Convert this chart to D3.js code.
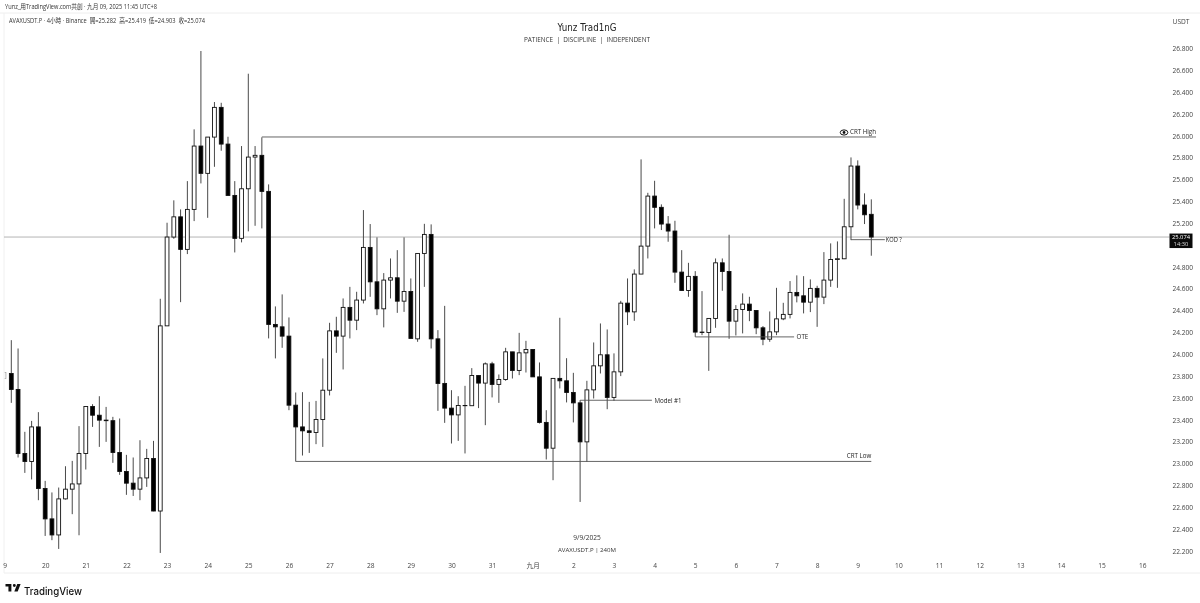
<!DOCTYPE html>
<html>
<head>
<meta charset="utf-8">
<script src="https://cdn.jsdelivr.net/npm/d3@7"></script>
<style>
  html, body { margin: 0; padding: 0; background: #fff; }
  svg { display: block; filter: blur(0.45px); }
  text { font-family: "Open Sans", "Noto Sans CJK TC", sans-serif; fill: #333; }
  .tick text { font-size: 6.6px; fill: #444; }
  .note { font-size: 6.2px; fill: #222; }
</style>
</head>
<body>
<div id="viz"></div>
<script>
// candles, 4h bars
const candleOpen = [
  23.825,23.679,23.093,23.019,23.336,22.772,22.494,22.347,22.677,22.766,
  22.814,23.093,23.523,23.443,23.398,23.393,23.102,22.928,22.821,22.766,
  22.869,23.047,22.566,24.261,25.074,25.259,24.961,25.327,25.907,25.657,
  25.989,26.261,25.925,25.455,25.062,25.516,25.806,25.822,25.492,24.274,
  24.252,24.167,23.535,23.336,23.300,23.285,23.404,23.672,24.215,24.167,
  24.430,24.313,24.497,24.979,24.664,24.417,24.680,24.701,24.487,24.576,
  24.142,24.924,25.098,24.142,23.734,23.508,23.446,23.532,23.530,23.807,
  23.737,23.913,23.725,23.770,24.023,23.853,24.014,24.045,23.794,23.377,
  23.141,23.780,23.758,23.651,23.556,23.199,23.675,23.895,23.996,23.606,
  23.840,24.469,24.389,24.735,24.991,25.449,25.346,25.193,25.129,24.753,
  24.585,24.714,24.204,24.200,24.329,24.838,24.759,24.304,24.411,24.460,
  24.402,24.243,24.139,24.206,24.325,24.366,24.567,24.536,24.478,24.604,
  24.524,24.680,24.869,24.875,25.168,25.724,25.367,25.282]
const candleClose = [
  23.679,23.093,23.019,23.336,22.772,22.494,22.347,22.677,22.766,22.814,
  23.093,23.523,23.443,23.398,23.393,23.102,22.928,22.821,22.766,22.869,
  23.047,22.566,24.261,25.074,25.259,24.961,25.327,25.907,25.657,25.989,
  26.261,25.925,25.455,25.062,25.516,25.806,25.822,25.492,24.274,24.252,
  24.167,23.535,23.336,23.300,23.285,23.404,23.672,24.215,24.167,24.430,
  24.313,24.497,24.979,24.664,24.417,24.680,24.701,24.487,24.576,24.146,
  24.924,25.098,24.142,23.734,23.508,23.446,23.532,23.530,23.807,23.737,
  23.913,23.725,23.770,24.023,23.853,24.014,24.045,23.794,23.377,23.141,
  23.780,23.758,23.651,23.556,23.199,23.675,23.895,23.996,23.606,23.840,
  24.469,24.389,24.735,24.991,25.449,25.346,25.193,25.129,24.753,24.585,
  24.714,24.204,24.200,24.329,24.838,24.759,24.304,24.411,24.460,24.402,
  24.243,24.139,24.206,24.325,24.366,24.567,24.536,24.478,24.604,24.524,
  24.680,24.869,24.875,25.168,25.724,25.367,25.278,25.074]
const candleHigh = [
  24.130,24.054,23.291,23.391,23.471,22.842,22.736,22.781,22.976,23.025,
  23.343,23.526,23.544,23.617,23.519,23.428,23.413,23.080,23.056,23.214,
  23.135,23.208,24.509,25.205,25.410,25.327,25.586,26.060,26.777,25.989,
  26.310,26.303,25.992,25.586,25.907,26.569,25.907,25.987,25.556,24.439,
  24.549,24.338,23.651,23.654,23.565,23.574,23.963,24.289,24.344,24.512,
  24.618,24.573,25.321,25.193,25.071,24.744,24.878,24.954,25.071,24.695,
  24.927,25.195,25.190,24.222,24.444,23.672,23.617,23.712,23.874,23.807,
  23.926,23.932,23.816,24.060,24.023,24.197,24.124,24.045,23.926,23.489,
  23.780,24.335,23.965,23.831,23.581,23.758,24.109,24.283,24.228,24.009,
  24.490,24.695,24.778,25.785,25.479,25.589,25.373,25.266,25.223,24.954,
  24.838,24.762,24.579,24.329,24.878,24.878,25.095,24.451,24.558,24.527,
  24.405,24.259,24.393,24.609,24.472,24.671,24.723,24.716,24.686,24.628,
  24.936,25.016,25.034,25.424,25.803,25.776,25.474,25.419]
const candleLow = [
  23.556,23.056,22.915,22.855,22.665,22.338,22.299,22.219,22.671,22.537,
  22.344,22.946,23.336,23.153,23.199,23.007,22.897,22.714,22.704,22.665,
  22.787,22.564,22.182,24.261,25.058,24.478,24.918,25.220,25.565,25.250,
  25.717,25.864,25.455,24.933,25.025,25.126,25.177,25.153,24.146,23.963,
  24.060,23.489,23.019,23.074,23.098,23.178,23.153,23.624,24.014,23.862,
  24.146,24.222,24.466,24.527,24.359,24.247,24.512,24.380,24.389,24.146,
  24.115,24.618,24.054,23.483,23.373,23.184,23.208,23.093,23.530,23.508,
  23.352,23.606,23.556,23.758,23.779,23.810,23.834,23.794,23.367,23.038,
  22.848,23.688,23.560,23.377,22.649,23.016,23.596,23.825,23.498,23.574,
  23.801,24.268,24.307,24.735,24.878,25.153,25.138,25.031,24.655,24.582,
  24.527,24.160,24.176,23.849,24.243,24.582,24.142,24.173,24.192,24.304,
  24.185,24.084,24.115,24.176,24.313,24.329,24.476,24.375,24.387,24.252,
  24.460,24.618,24.609,24.872,25.046,25.327,25.193,24.903]

// 25.000 is hidden behind the last price tag in the reference
const priceTicks = [22.2,22.4,22.6,22.8,23.0,23.2,23.4,23.6,23.8,24.0,24.2,24.4,24.6,24.8,25.2,25.4,25.6,25.8,26.0,26.2,26.4,26.6,26.8]
const dayLabels = ['9','20','21','22','23','24','25','26','27','28','29','30','31','九月','2','3','4','5','6','7','8','9','10','11','12','13','14','15','16']

const lastPrice = 25.074
const noteLabels = ['CRT High','CRT Low','Model #1','OTE','KOD ?']
const noteFrom   = [37, 42, 84, 101, 124]      // bar where the line starts
const noteTo     = [127.7, 127, 94.6, 115.6, 129]
const notePrice  = [25.99, 23.02, 23.58, 24.16, 25.05]

const CONST = { width: 1200, height: 603,
                plot: { left: 4, right: 1169.5, top: 13, bottom: 573 },
                bar:  { first: 11.3, last: 871.3, width: 3.8 },
                price:{ top: 48.5, bottom: 551 } }

const svg = d3.select('#viz').append('svg')
    .attr('width', CONST.width)
    .attr('height', CONST.height)

svg.append('rect').attr('width', CONST.width).attr('height', CONST.height).attr('fill', '#fff')

const x = d3.scaleLinear().domain([0, candleOpen.length - 1]).range([CONST.bar.first, CONST.bar.last])
const y = d3.scaleLinear().domain([22.2, 26.8]).range([CONST.price.bottom, CONST.price.top])

function drawFrame() {
    const p = CONST.plot
    svg.append('line').attr('x1', 0).attr('x2', CONST.width).attr('y1', p.top).attr('y2', p.top).attr('stroke', '#eee')
    svg.append('line').attr('x1', p.left).attr('x2', p.left).attr('y1', p.top).attr('y2', p.bottom).attr('stroke', '#f0f0f0')
    svg.append('line').attr('x1', p.left).attr('x2', CONST.width).attr('y1', p.bottom).attr('y2', p.bottom).attr('stroke', '#eee')

    // the source text is squeezed sideways, so fix the widths
    svg.append('text').text('Yunz_用TradingView.com共創 · 九月 09, 2025 11:45 UTC+8')
        .attr('x', 5).attr('y', 9).attr('font-size', 6.6)
        .attr('textLength', 152).attr('lengthAdjust', 'spacingAndGlyphs')
    svg.append('text').text('AVAXUSDT.P · 4小時 · Binance  開=25.282  高=25.419  低=24.903  收=25.074')
        .attr('x', 9).attr('y', 22.5).attr('font-size', 6.4).attr('xml:space', 'preserve')
        .attr('textLength', 196).attr('lengthAdjust', 'spacingAndGlyphs')

    svg.append('text').text('Yunz Trad1nG').attr('x', 587).attr('y', 30.5)
        .attr('text-anchor', 'middle').attr('font-size', 10).style('fill', '#222')
        .style('font-family', '"DejaVu Sans"')
        .attr('textLength', 59).attr('lengthAdjust', 'spacingAndGlyphs')
    svg.append('text').text('PATIENCE  |  DISCIPLINE  |  INDEPENDENT').attr('x', 587).attr('y', 42)
        .attr('text-anchor', 'middle').attr('font-size', 6.4).attr('xml:space', 'preserve')

    svg.append('text').text('9/9/2025').attr('x', 587).attr('y', 539.5)
        .attr('text-anchor', 'middle').attr('font-size', 6.6)
    svg.append('text').text('AVAXUSDT.P | 240M').attr('x', 587).attr('y', 551.5)
        .attr('text-anchor', 'middle').attr('font-size', 6.1)

    // cut-off label at the left edge
    svg.append('text').text(']').attr('x', 4.5).attr('y', y(23.79))
        .attr('font-size', 7).style('fill', '#888')
}

function drawAxes() {
    const yAxis = svg.append('g').attr('class', 'y-axis')
        .attr('transform', `translate(${1170},0)`)
        .call(d3.axisRight(y).tickValues(priceTicks).tickSize(0).tickPadding(2.5).tickFormat(d3.format('.3f')))
    yAxis.select('.domain').remove()

    svg.append('text').text('USDT').attr('x', 1181).attr('y', 23.5)
        .attr('text-anchor', 'middle').attr('font-size', 6.6).style('fill', '#444')

    const dayBars = dayLabels.map((d, i) => -1 + i * 6)
    const xAxis = svg.append('g').attr('class', 'x-axis')
        .attr('transform', `translate(0,${560.5})`)
        .call(d3.axisBottom(x).tickValues(dayBars).tickSize(0).tickPadding(3)
            .tickFormat((d, i) => dayLabels[i]))
    xAxis.select('.domain').remove()
}

function drawLastPrice() {
    const yp = y(lastPrice)
    svg.append('line').attr('x1', CONST.plot.left).attr('x2', CONST.plot.right)
        .attr('y1', yp).attr('y2', yp).attr('stroke', '#b4b4b4').attr('stroke-width', 1)
    svg.append('rect').attr('x', CONST.plot.right).attr('y', yp - 3.5).attr('width', 23).attr('height', 14.5).attr('fill', '#0b0b0b')
    // price and countdown share one text element
    const tag = svg.append('text').attr('text-anchor', 'middle').attr('font-size', 5.8).style('fill', '#fff')
    tag.append('tspan').text(d3.format('.3f')(lastPrice)).attr('x', 1181).attr('y', yp + 2)
    tag.append('tspan').text('14:30').attr('x', 1181).attr('y', yp + 9.2).style('fill', '#ddd')
}

function drawCandles() {
    const w = CONST.bar.width
    const bars = svg.append('g').attr('class', 'candles').selectAll('g')
        .data(candleOpen.map((o, i) => ({ i, o, c: candleClose[i], h: candleHigh[i], l: candleLow[i] })))
        .join('g')
    bars.append('line')
        .attr('x1', d => x(d.i)).attr('x2', d => x(d.i))
        .attr('y1', d => y(d.h)).attr('y2', d => y(d.l))
        .attr('stroke', '#4a4a4a').attr('stroke-width', 1)
    bars.append('rect')
        .attr('x', d => x(d.i) - w / 2)
        .attr('y', d => y(Math.max(d.o, d.c)))
        .attr('width', w)
        .attr('height', d => Math.abs(y(d.o) - y(d.c)))
        .attr('fill', d => d.c >= d.o ? '#fff' : '#000')
        .attr('stroke', '#111').attr('stroke-width', 0.9)
}

function drawNotes() {
    const notes = noteLabels.map((label, i) => ({ label, from: noteFrom[i], to: noteTo[i], price: notePrice[i] }))
    const g = svg.append('g').attr('class', 'notes')
    notes.forEach(n => {
        const yn = y(n.price)
        g.append('line').attr('x1', x(n.from)).attr('x2', x(n.to)).attr('y1', yn).attr('y2', yn)
            .attr('stroke', '#555').attr('stroke-width', 0.9)
        if (n.label == 'CRT High' || n.label == 'CRT Low') {
            g.append('text').attr('class', 'note').text(n.label)
                .attr('x', x(n.to)).attr('y', yn - 3).attr('text-anchor', 'end')
        } else {
            const gap = n.label == 'KOD ?' ? 1 : 2.5
            const drop = n.label == 'Model #1' ? 2.8 : 2.2
            g.append('text').attr('class', 'note').text(n.label)
                .attr('x', x(n.to) + gap).attr('y', yn + drop)
                .attr('textLength', n.label == 'KOD ?' ? 16 : null)
                .attr('lengthAdjust', 'spacingAndGlyphs')
        }
    })
    // eye icon in front of CRT High
    const eyeX = x(noteTo[0]) - 32, eyeY = y(notePrice[0]) - 4.5
    g.append('ellipse').attr('cx', eyeX).attr('cy', eyeY).attr('rx', 3.8).attr('ry', 2.6)
        .attr('fill', '#fff').attr('stroke', '#111').attr('stroke-width', 1)
    g.append('circle').attr('cx', eyeX).attr('cy', eyeY).attr('r', 1.4).attr('fill', '#111')
}

function drawLogo() {
    const logo = svg.append('g').attr('transform', 'translate(5.5,581.5) scale(0.42)')
    logo.append('path').attr('fill', '#111')
        .attr('d', 'M14 6H0v6h7v12h7V6zm15 18h-8l7-18h8l-7 18zM21 13a3.5 3.5 0 1 0 0-7 3.5 3.5 0 0 0 0 7z')
    svg.append('text').text('TradingView').attr('x', 24).attr('y', 595)
        .attr('font-size', 11).attr('font-weight', 500).style('fill', '#111')
        .style('font-family', 'Inter, "Open Sans", sans-serif')
        .attr('textLength', 58).attr('lengthAdjust', 'spacingAndGlyphs')
}

function main() {
    drawFrame()
    drawLastPrice()
    drawAxes()
    drawCandles()
    drawNotes()
    drawLogo()
}

main()
</script>
</body>
</html>
